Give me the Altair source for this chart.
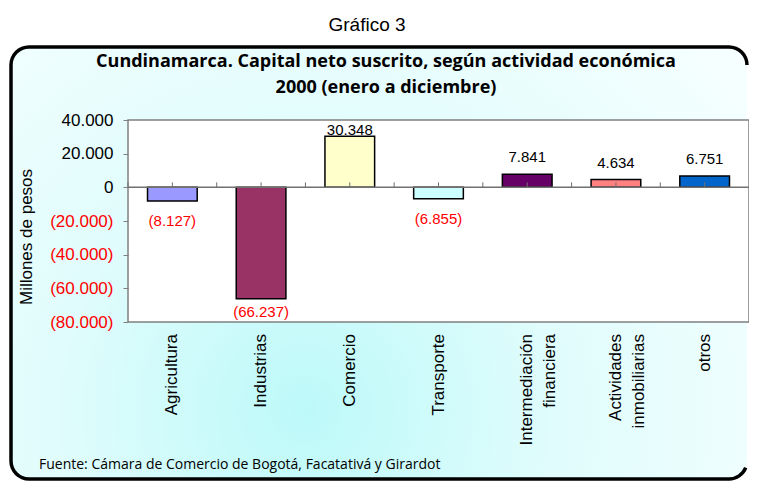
import altair as alt
import math
import pandas as pd

# ---- data ----
categories = ["Agricultura", "Industrias", "Comercio", "Transporte",
              "Intermediación\nfinanciera", "Actividades\ninmobiliarias", "otros"]
values = [-8127, -66237, 30348, -6855, 7841, 4634, 6751]
bar_colors = ["#9999FF", "#993366", "#FFFFCC", "#CCFFFF", "#660066", "#FF8080", "#0066CC"]
y_ticks = [-80000, -60000, -40000, -20000, 0, 20000, 40000]

chart_label = "Gráfico 3"
title_line1 = "Cundinamarca. Capital neto suscrito, según actividad económica"
title_line2 = "2000 (enero a diciembre)"
y_title = "Millones de pesos"
source = "Fuente: Cámara de Comercio de Bogotá, Facatativá y Girardot"

W, H = 621, 202
FONT = "Liberation Sans"
FONT2 = "Open Sans"

df = pd.DataFrame({"cat": categories, "v": values})
one = pd.DataFrame({"k": [0]})

xscale = alt.Scale(domain=categories, paddingInner=0, paddingOuter=0)
xenc = alt.X("cat:N", scale=xscale, axis=None)
yscale = alt.Scale(domain=[-80000, 40000], nice=False, zero=False)

fmt = "replace(format(abs(datum.value), ','), ',', '.')"
yaxis = alt.Axis(
    values=y_ticks, title=None, domain=False, grid=False,
    tickColor="#808080", tickSize=5, tickWidth=1,
    labelFont=FONT, labelFontSize=17, labelPadding=10, labelOverlap=False,
    labelColor=alt.condition("datum.value < 0", alt.value("red"), alt.value("black")),
    labelExpr=f"datum.value < 0 ? '(' + {fmt} + ')' : {fmt} + '\u00a0'",
    zindex=1,
)

# outer rounded frame: gradient fill, border drawn piecewise (right side cut off)
FX1, FX2, FY1, FY2, R, SW = -117, 619, -73, 359, 18, 3.5
frame_fill = alt.Chart(one).mark_rect(
    cornerRadius=R,
    fill={"gradient": "radial", "x1": 0.40, "y1": 0.70, "r1": 0,
          "x2": 0.40, "y2": 0.70, "r2": 0.75,
          "stops": [{"offset": 0, "color": "#bdf9f9"},
                    {"offset": 0.45, "color": "#e0fcfc"},
                    {"offset": 1, "color": "#f6ffff"}]},
).encode(x=alt.value(FX1), x2=alt.value(FX2), y=alt.value(FY1), y2=alt.value(FY2))

def hline(y, x1, x2):
    return alt.Chart(one).mark_rule(color="black", strokeWidth=SW).encode(
        y=alt.value(y), x=alt.value(x1), x2=alt.value(x2))

def vline(x, y1, y2):
    return alt.Chart(one).mark_rule(color="black", strokeWidth=SW).encode(
        x=alt.value(x), y=alt.value(y1), y2=alt.value(y2))

def corner(cx, cy, t1, t2):
    return alt.Chart(one).mark_arc(
        color="black", radius=R + SW / 2, radius2=R - SW / 2, theta=t1, theta2=t2,
    ).encode(x=alt.value(cx), y=alt.value(cy))

border = [
    hline(FY1, FX1 + R, FX2 - R),
    hline(FY2, FX1 + R, FX2 - R),
    vline(FX1, FY1 + R, FY2 - R),
    corner(FX1 + R, FY1 + R, 1.5 * math.pi, 2 * math.pi),
    corner(FX1 + R, FY2 - R, math.pi, 1.5 * math.pi),
    corner(FX2 - R, FY1 + R, 0, 0.5 * math.pi),
    corner(FX2 - R, FY2 - R, 0.62 * math.pi, math.pi),
]

plot_bg = alt.Chart(one).mark_rect(fill="white", stroke="#808080", strokeWidth=1.5).encode(
    x=alt.value(0), x2=alt.value(W), y=alt.value(0), y2=alt.value(H))

bars = alt.Chart(df).mark_bar(width=alt.RelativeBandSize(0.56), stroke="black", strokeWidth=1.5).encode(
    x=xenc,
    y=alt.Y("v:Q", scale=yscale, axis=yaxis),
    color=alt.Color("cat:N", scale=alt.Scale(domain=categories, range=bar_colors), legend=None),
)

zero = alt.Chart(one).mark_rule(color="#707070", strokeWidth=1.5).encode(
    y=alt.datum(0, scale=yscale, axis=yaxis), x=alt.value(0), x2=alt.value(W))

ticks_c = alt.Chart(df).mark_rule(color="#707070", strokeWidth=1, y2Offset=-5).encode(
    x=xenc, y=alt.datum(0, axis=yaxis), y2=alt.datum(0))
ticks_b = alt.Chart(df).mark_rule(color="#707070", strokeWidth=1, y2Offset=-5).encode(
    x=alt.X("cat:N", bandPosition=0, scale=xscale, axis=None),
    y=alt.datum(0, axis=yaxis), y2=alt.datum(0))

labels = alt.Chart(df).transform_calculate(
    ly="datum.v >= 0 ? min(datum.v + 10100, 33800) : max(datum.v - 11800, -73800)",
    txt="datum.v < 0 ? '(' + replace(format(abs(datum.v), ','), ',', '.') + ')' : replace(format(datum.v, ','), ',', '.')",
).mark_text(font=FONT, fontSize=15, baseline="middle").encode(
    x=xenc, y=alt.Y("ly:Q", scale=yscale, axis=yaxis), text="txt:N",
    color=alt.condition("datum.v < 0", alt.value("red"), alt.value("black")),
)

xlabels = alt.Chart(df).mark_text(
    font=FONT, fontSize=17, angle=270, align="right", baseline="middle",
    lineBreak="\n", lineHeight=23, color="black",
).encode(x=xenc, y=alt.value(214), text="cat:N")

def txt(s, x, y, size, weight="normal", align="center", angle=0, baseline="middle", font=FONT):
    return alt.Chart(one).mark_text(
        font=font, fontSize=size, fontWeight=weight, align=align, angle=angle,
        baseline=baseline, color="black",
    ).encode(x=alt.value(x), y=alt.value(y), text=alt.value(s))

texts = [
    txt(chart_label, 239, -95, 19),
    txt(title_line1, 258, -58, 18, "bold", font=FONT2),
    txt(title_line2, 258, -32, 18, "bold", font=FONT2),
    txt(y_title, -101, 117, 17, angle=270),
    txt(source, -89, 349, 14, align="left", baseline="alphabetic", font=FONT2),
]

chart = alt.layer(frame_fill, *border, plot_bg, bars, zero, ticks_c, ticks_b, labels, xlabels, *texts).properties(
    width=W, height=H,
    autosize=alt.AutoSizeParams(type="none"),
    padding={"left": 120, "top": 112, "right": 0, "bottom": 161},
).configure_view(stroke=None).configure(background="white")

chart.save("out.html", embed_options={"renderer": "svg", "actions": False})
